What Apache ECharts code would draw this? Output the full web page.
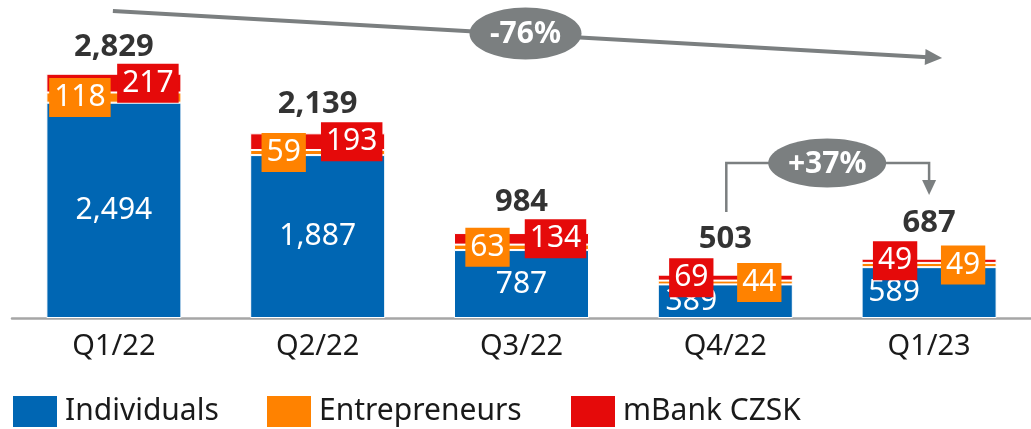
<!DOCTYPE html>
<html>
<head>
<meta charset="utf-8">
<script src="https://cdn.jsdelivr.net/npm/echarts@6/dist/echarts.min.js"></script>
<style>
  html, body { margin: 0; padding: 0; background: #fff; }
  #chart { width: 1031px; height: 429px; }
</style>
</head>
<body>
<div id="chart"></div>
<script>
const quarters = ['Q1/22', 'Q2/22', 'Q3/22', 'Q4/22', 'Q1/23'];
const individuals = [2494, 1887, 787, 389, 589];
const entrepreneurs = [118, 59, 63, 44, 49];
const czsk = [217, 193, 134, 69, 49];
const totals = [2829, 2139, 984, 503, 687];
const changeYear = '-76%';
const changeQuarter = '+37%';

// label placement (styling only)
const orangeSide = [-1, -1, -1, 1, 1];
const blueShift = [0, 0, 0, -34, -35];
const totalGap = [11, 13, 15, 19, 20];

const BLUE = '#0066B3';
const ORANGE = '#FF8200';
const RED = '#E50A0A';
const GREY = '#7B7F80';
const FONT = 'Noto Sans';

let myChart = echarts.init(document.getElementById('chart'), null, { renderer: 'canvas' });

const fmt = (p) => Number(p.value).toLocaleString('en-US');

const boxLabel = (bg) => ({
  show: true,
  position: 'inside',
  color: '#fff',
  fontFamily: FONT,
  fontSize: 30,
  lineHeight: 33,
  padding: [3, 5],
  backgroundColor: bg
});

const legendAt = (left, name) => ({
  left: left,
  top: 394,
  padding: 0,
  itemWidth: 46,
  itemHeight: 33,
  itemGap: 0,
  icon: 'rect',
  data: [name],
  selectedMode: false,
  textStyle: { fontFamily: FONT, fontSize: 30, color: '#1a1a1a', padding: [0, 0, 0, 2] }
});

let option = {
  animation: false,
  grid: { left: 12, width: 1020, top: 59, bottom: 111 },
  legend: [
    legendAt(11, 'Individuals'),
    legendAt(265, 'Entrepreneurs'),
    legendAt(569, 'mBank CZSK')
  ],
  xAxis: {
    type: 'category',
    data: quarters,
    axisLine: { lineStyle: { color: '#A6A6A6', width: 2.5 } },
    axisTick: { show: false },
    axisLabel: { margin: 14, fontFamily: FONT, fontSize: 29, color: '#1a1a1a' }
  },
  yAxis: {
    type: 'value',
    min: 0,
    max: 3000,
    show: false,
    splitLine: { show: false }
  },
  series: [
    {
      name: 'Individuals',
      type: 'bar',
      stack: 'loans',
      barWidth: 135,
      itemStyle: { color: BLUE, borderColor: '#fff', borderWidth: 1 },
      label: { show: true, position: 'inside', color: '#fff', fontFamily: FONT, fontSize: 30, formatter: fmt },
      data: individuals.map((v, i) => ({ value: v, label: { offset: [blueShift[i], 0] } }))
    },
    {
      name: 'Entrepreneurs',
      type: 'bar',
      stack: 'loans',
      itemStyle: { color: ORANGE, borderColor: '#fff', borderWidth: 1 },
      label: boxLabel(ORANGE),
      data: entrepreneurs.map((v, i) => ({ value: v, label: { offset: [orangeSide[i] * 34, 0] } }))
    },
    {
      name: 'mBank CZSK',
      type: 'bar',
      stack: 'loans',
      itemStyle: { color: RED, borderColor: '#fff', borderWidth: 1 },
      label: boxLabel(RED),
      data: czsk.map((v, i) => ({ value: v, label: { offset: [-orangeSide[i] * 34, 0] } }))
    },
    {
      name: 'total',
      type: 'scatter',
      symbolSize: 1,
      itemStyle: { color: 'rgba(0,0,0,0)' },
      label: {
        show: true,
        position: 'top',
        color: '#000',
        fontFamily: FONT,
        fontWeight: 'bold',
        fontSize: 31,
        formatter: fmt
      },
      data: totals.map((v, i) => ({ value: v, label: { distance: totalGap[i] } }))
    }
  ]
};
myChart.setOption(option);

// annotation arrows, anchored to the category positions
const xOf = (q) => myChart.convertToPixel({ xAxisIndex: 0 }, q);

function arrowHead(tip, dir, len, half) {
  const d = Math.hypot(dir[0], dir[1]);
  const ux = dir[0] / d, uy = dir[1] / d;
  const bx = tip[0] - ux * len, by = tip[1] - uy * len;
  return [tip, [bx - uy * half, by + ux * half], [bx + uy * half, by - ux * half]];
}

function bubble(cx, cy, rx, ry, text) {
  return [
    { type: 'ellipse', shape: { cx: cx, cy: cy, rx: rx, ry: ry }, style: { fill: GREY }, z: 10 },
    {
      type: 'text', x: cx, y: cy + 1, z: 11,
      style: { text: text, fill: '#fff', font: 'bold 30px "' + FONT + '"', align: 'center', verticalAlign: 'middle' }
    }
  ];
}

const x0 = xOf(quarters[0]);
const x3 = xOf(quarters[3]);
const x4 = xOf(quarters[4]);

const aStart = [x0 - 1, 11];
const aTip = [x4 + 13, 58];
const aDir = [aTip[0] - aStart[0], aTip[1] - aStart[1]];
const aMid = [(aStart[0] + aTip[0]) / 2 - 2, (aStart[1] + aTip[1]) / 2 - 1];

const bTip = [x4, 195];

myChart.setOption({
  graphic: [
    {
      type: 'line', z: 9,
      shape: { x1: aStart[0], y1: aStart[1], x2: aTip[0] - 14, y2: aTip[1] - 0.8 },
      style: { stroke: GREY, lineWidth: 4 }
    },
    { type: 'polygon', z: 9, shape: { points: arrowHead(aTip, aDir, 17, 8) }, style: { fill: GREY } },
    ...bubble(aMid[0], aMid[1], 56, 26, changeYear),
    {
      type: 'polyline', z: 9,
      shape: { points: [[x3 + 1, 212], [x3 + 1, 163], [x4, 163], [x4, 181]] },
      style: { stroke: GREY, lineWidth: 2.5, fill: null }
    },
    { type: 'polygon', z: 9, shape: { points: arrowHead(bTip, [0, 1], 15, 7) }, style: { fill: GREY } },
    ...bubble((x3 + x4) / 2, 163, 59, 24.5, changeQuarter)
  ]
});
</script>
</body>
</html>
